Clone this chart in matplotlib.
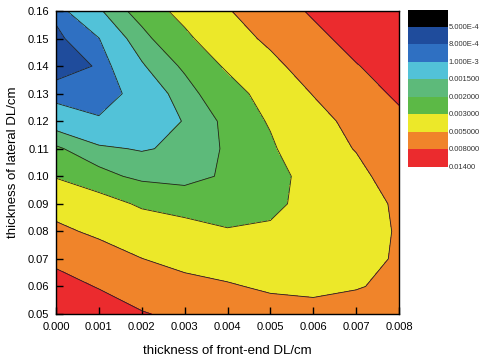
import numpy as np
import matplotlib
matplotlib.use("Agg")
import matplotlib.pyplot as plt
from matplotlib.colors import ListedColormap, BoundaryNorm

plt.rcParams['font.family'] = ['Liberation Sans', 'DejaVu Sans']

# grid of the contour data
front_dl = [0.000, 0.001, 0.002, 0.003, 0.004, 0.005, 0.006, 0.007, 0.008]
lateral_dl = [0.05, 0.06, 0.07, 0.08, 0.09, 0.10, 0.11, 0.12, 0.13, 0.14, 0.15, 0.16]

# values (x1e-3), one row per lateral DL thickness, bottom to top
row_005 = [12.0, 11.0, 8.2, 7.29, 6.5, 5.93, 5.6, 6.2, 6.3]
row_006 = [10.04, 7.7, 6.5, 5.6, 5.2, 4.69, 4.6, 4.83, 5.6]
row_007 = [6.9, 6.72, 5.03, 4.4, 4.0, 3.9, 4.0, 4.4, 5.2]
row_008 = [5.75, 4.33, 3.82, 3.5, 3.06, 3.13, 3.6, 4.27, 5.15]
row_009 = [3.66, 3.54, 2.82, 2.5, 2.6, 2.8, 3.3, 3.86, 5.4]
row_010 = [2.95, 2.23, 1.82, 1.75, 2.11, 2.6, 3.42, 4.44, 6.0]
row_011 = [2.1, 1.57, 1.466, 1.58, 2.09, 2.8, 4.05, 5.09, 6.6]
row_012 = [1.19, 1.03, 1.25, 1.52, 2.15, 3.12, 4.2, 5.68, 7.3]
row_013 = [0.90, 0.88, 1.10, 1.75, 2.49, 3.51, 5.08, 6.65, 8.5]
row_014 = [0.695, 0.82, 1.44, 2.10, 3.16, 4.4, 6.07, 7.85, 9.4]
row_015 = [0.75, 0.99, 1.773, 2.71, 3.99, 5.44, 7.22, 9.0, 10.4]
row_016 = [0.85, 1.42, 2.29, 3.42, 4.82, 6.56, 8.36, 9.8, 11.2]

levels = [0.0, 5e-4, 8e-4, 1e-3, 1.5e-3, 2e-3, 3e-3, 5e-3, 8e-3, 0.014]
level_labels = ["5.000E-4", "8.000E-4", "1.000E-3", "0.001500", "0.002000",
                "0.003000", "0.005000", "0.008000", "0.01400"]
colors = ["#000000", "#1f4c9c", "#2f70c2", "#52c2d8", "#5dba7a",
          "#5cb946", "#ece829", "#f0842a", "#eb2b2e"]

Z = np.array([row_005, row_006, row_007, row_008, row_009, row_010,
              row_011, row_012, row_013, row_014, row_015, row_016]) * 1e-3
X, Y = np.meshgrid(front_dl, lateral_dl)

fig = plt.figure(figsize=(4.83, 3.59), dpi=100)
ax = fig.add_axes([56 / 483, 1 - 314 / 359, 343 / 483, 303 / 359])

ax.contourf(X, Y, Z, levels=levels, colors=colors)
ax.contour(X, Y, Z, levels=levels[1:-1], colors="#222222", linewidths=0.6)

ax.set_xlim(0, 0.008)
ax.set_ylim(0.05, 0.16)
ax.set_xticks(front_dl)
ax.set_xticklabels(["%.3f" % v for v in front_dl])
ax.set_yticks(lateral_dl)
ax.set_yticklabels(["%.2f" % v for v in lateral_dl])
ax.tick_params(direction="in", length=5, width=1, labelsize=8)
ax.tick_params(axis="x", pad=6)
ax.tick_params(axis="y", pad=5)
for s in ax.spines.values():
    s.set_linewidth(1)
ax.set_xlabel("thickness of front-end DL/cm", fontsize=9.5, labelpad=9)
ax.set_ylabel("thickness of lateral DL/cm", fontsize=9.5, labelpad=6)

# colour scale on the right
cax = fig.add_axes([408 / 483, 1 - 167 / 359, 39 / 483, 157 / 359])
n = len(colors)
cax.imshow(np.arange(n).reshape(-1, 1), cmap=ListedColormap(colors),
           norm=BoundaryNorm(np.arange(n + 1) - 0.5, n),
           aspect="auto", extent=[0, 1, n, 0], interpolation="nearest")
cax.set_xticks([])
cax.set_yticks([])
for s in cax.spines.values():
    s.set_visible(False)
for i, lab in enumerate(level_labels):
    cax.text(1.05, i + 1, lab, fontsize=5.5, va="center", ha="left",
             color="#333333", transform=cax.transData, clip_on=False)

fig.savefig("out.png", dpi=100)
